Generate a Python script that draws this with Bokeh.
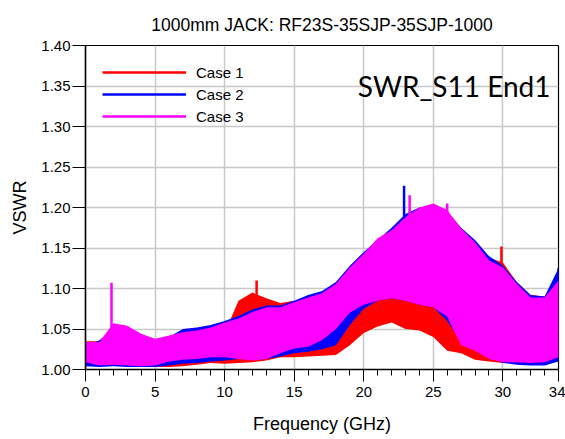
from bokeh.plotting import figure
from bokeh.models import (Range1d, FixedTicker, Legend, LegendItem, Label,
                          CustomJSTickFormatter)
from bokeh.embed import file_html
from bokeh.resources import INLINE

# ---- data ----
freq = [0, 1, 2, 3, 4, 5, 6, 7, 8, 9, 10, 11, 12, 13, 14, 15, 16, 17,
        18, 19, 20, 21, 22, 23, 24, 25, 26, 27, 28, 29, 30, 31, 32, 33, 34]

case1_lo = [1.005, 1.004, 1.005, 1.005, 1.004, 1.003, 1.003, 1.004, 1.006, 1.008,
            1.007, 1.008, 1.009, 1.011, 1.015, 1.015, 1.016, 1.017, 1.018, 1.030,
            1.045, 1.053, 1.058, 1.050, 1.048, 1.040, 1.023, 1.020, 1.012, 1.010,
            1.008, 1.008, 1.008, 1.009, 1.012]
case1_hi = [1.035, 1.035, 1.040, 1.040, 1.030, 1.025, 1.022, 1.026, 1.030, 1.038,
            1.045, 1.085, 1.095, 1.088, 1.082, 1.085, 1.082, 1.095, 1.090, 1.085,
            1.090, 1.095, 1.096, 1.090, 1.092, 1.080, 1.090, 1.150, 1.150, 1.138,
            1.132, 1.108, 1.092, 1.090, 1.115]

case2_lo = [1.004, 1.003, 1.004, 1.003, 1.003, 1.003, 1.005, 1.007, 1.008, 1.010,
            1.011, 1.013, 1.012, 1.013, 1.016, 1.020, 1.022, 1.025, 1.030, 1.055,
            1.075, 1.085, 1.088, 1.085, 1.080, 1.077, 1.060, 1.035, 1.025, 1.015,
            1.008, 1.006, 1.005, 1.005, 1.010]
case2_hi = [1.030, 1.036, 1.050, 1.050, 1.040, 1.035, 1.040, 1.050, 1.052, 1.055,
            1.060, 1.066, 1.074, 1.079, 1.079, 1.085, 1.092, 1.097, 1.108, 1.128,
            1.145, 1.160, 1.175, 1.192, 1.200, 1.203, 1.195, 1.175, 1.160, 1.140,
            1.128, 1.108, 1.092, 1.090, 1.125]

case3_lo = [1.009, 1.005, 1.006, 1.005, 1.004, 1.005, 1.010, 1.012, 1.013, 1.015,
            1.015, 1.013, 1.011, 1.013, 1.020, 1.026, 1.028, 1.036, 1.050, 1.070,
            1.080, 1.085, 1.088, 1.085, 1.080, 1.077, 1.065, 1.030, 1.023, 1.013,
            1.009, 1.009, 1.008, 1.009, 1.015]
case3_hi = [1.034, 1.034, 1.057, 1.054, 1.044, 1.038, 1.042, 1.046, 1.048, 1.052,
            1.058, 1.063, 1.071, 1.077, 1.077, 1.083, 1.089, 1.094, 1.106, 1.126,
            1.143, 1.162, 1.172, 1.188, 1.200, 1.205, 1.197, 1.174, 1.157, 1.135,
            1.126, 1.106, 1.089, 1.089, 1.110]

# isolated spikes (frequency, base, peak)
case1_spike_f = [12.3, 29.9]
case1_spike_lo = [1.08, 1.12]
case1_spike_hi = [1.110, 1.152]
case2_spike_f = [22.9, 34.0]
case2_spike_lo = [1.18, 1.10]
case2_spike_hi = [1.227, 1.125]
case3_spike_f = [1.87, 23.3, 26.0]
case3_spike_lo = [1.05, 1.18, 1.18]
case3_spike_hi = [1.107, 1.215, 1.205]

series_names = ["Case 1", "Case 2", "Case 3"]
colors = ["#ff0000", "#0000ff", "#ff00ff"]

x_ticks = [0, 5, 10, 15, 20, 25, 30, 34]
x_minor = list(range(0, 35))
y_ticks = [1.00, 1.05, 1.10, 1.15, 1.20, 1.25, 1.30, 1.35, 1.40]

title_text = "1000mm JACK: RF23S-35SJP-35SJP-1000"
note_text = "SWR_S11 End1"

FONT = "Liberation Sans"

p = figure(frame_width=473, frame_height=324,
           min_border_left=85, min_border_right=7,
           min_border_top=45, min_border_bottom=70,
           x_range=Range1d(0, 34), y_range=Range1d(1.0, 1.4),
           output_backend="svg", toolbar_location=None,
           title=title_text)

p.title.text_font = FONT
p.title.text_font_size = "17.5px"
p.title.text_font_style = "normal"
p.title.text_color = "black"
p.title.align = "center"
p.title.standoff = 22

bands = [(case1_lo, case1_hi), (case2_lo, case2_hi), (case3_lo, case3_hi)]
spikes = [(case1_spike_f, case1_spike_lo, case1_spike_hi),
          (case2_spike_f, case2_spike_lo, case2_spike_hi),
          (case3_spike_f, case3_spike_lo, case3_spike_hi)]

legend_items = []
for (lo, hi), (sf, slo, shi), c, name in zip(bands, spikes, colors, series_names):
    p.varea(x=freq, y1=lo, y2=hi, fill_color=c, fill_alpha=1.0)
    r = p.segment(x0=sf, y0=slo, x1=sf, y1=shi, line_color=c, line_width=2.5)
    legend_items.append(LegendItem(label=name, renderers=[r]))

legend = Legend(items=legend_items, location="top_left")
legend.margin = 17
legend.padding = 10
legend.spacing = 2
legend.glyph_width = 84
legend.glyph_height = 20
legend.label_standoff = 10
legend.label_text_font = FONT
legend.label_text_font_size = "15px"
legend.label_text_color = "black"
legend.border_line_color = None
legend.background_fill_alpha = 0
p.add_layout(legend)

note = Label(x=465, y=284, x_units="screen", y_units="screen",
             text=note_text, text_font="Lato", text_font_size="28px",
             text_align="right", text_baseline="alphabetic", text_color="black")
p.add_layout(note)

# axes
p.xaxis.ticker = FixedTicker(ticks=x_ticks, minor_ticks=x_minor)
p.yaxis.ticker = FixedTicker(ticks=y_ticks)
p.yaxis.formatter = CustomJSTickFormatter(code="return tick.toFixed(2);")

for ax in (p.xaxis[0], p.yaxis[0]):
    ax.axis_line_color = "black"
    ax.axis_line_width = 1.5
    ax.major_tick_line_color = "black"
    ax.minor_tick_line_color = "black"
    ax.major_tick_in = 0
    ax.minor_tick_in = 0
    ax.major_label_text_font = FONT
    ax.major_label_text_font_size = "15px"
    ax.major_label_text_color = "black"
    ax.axis_label_text_font = FONT
    ax.axis_label_text_font_size = "18px"
    ax.axis_label_text_font_style = "normal"
    ax.axis_label_text_color = "black"

p.xaxis.axis_label = "Frequency (GHz)"
p.xaxis.major_tick_out = 12
p.xaxis.minor_tick_out = 6
p.xaxis.major_label_standoff = 5
p.xaxis.axis_label_standoff = 14

p.yaxis.axis_label = "VSWR"
p.yaxis.major_tick_out = 13
p.yaxis.minor_tick_out = 0
p.yaxis.major_label_standoff = 2
p.yaxis.axis_label_standoff = 8

p.xgrid.grid_line_color = "#c8c8c8"
p.ygrid.grid_line_color = "#c8c8c8"
p.xgrid.grid_line_width = 1.5
p.ygrid.grid_line_width = 1.5

p.outline_line_color = "black"
p.outline_line_width = 1.2
p.background_fill_color = "white"
p.border_fill_color = "white"

open("out.html", "w").write(file_html(p, INLINE))
